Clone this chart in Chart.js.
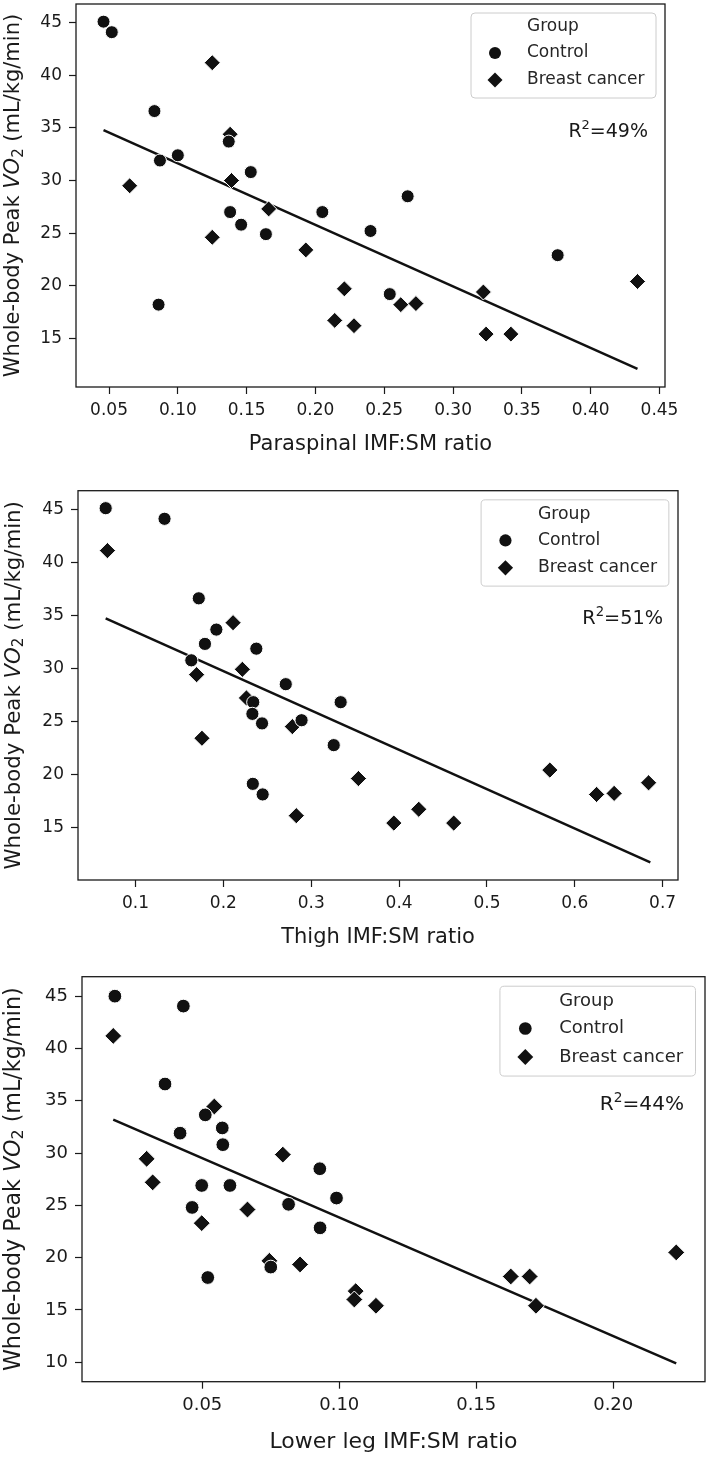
<!DOCTYPE html>
<html>
<head>
<meta charset="utf-8">
<script src="https://cdn.jsdelivr.net/npm/chart.js@4.4.1/dist/chart.umd.min.js"></script>
<style>
  html, body { margin: 0; padding: 0; background: #fff; }
  body { width: 709px; height: 1458px; position: relative; overflow: hidden; }
  canvas { position: absolute; left: 0; }
</style>
</head>
<body>
<canvas id="c1" width="709" height="470" style="top:0px"></canvas>
<canvas id="c2" width="709" height="493" style="top:470px"></canvas>
<canvas id="c3" width="709" height="495" style="top:963px"></canvas>
<script>
// ---- data ----
var groups = ['Control', 'Breast cancer'];
var r2Labels = ['49%', '51%', '44%'];

var vo2Ticks = [15, 20, 25, 30, 35, 40, 45];
var vo2TicksLow = [10, 15, 20, 25, 30, 35, 40, 45];

// paraspinal
var paraTicks = [0.05, 0.10, 0.15, 0.20, 0.25, 0.30, 0.35, 0.40, 0.45];
var paraCtrlX = [0.046, 0.052, 0.083, 0.087, 0.100, 0.137, 0.153, 0.138, 0.146, 0.164, 0.205, 0.240, 0.086, 0.254, 0.267, 0.376];
var paraCtrlY = [45.1, 44.1, 36.6, 31.9, 32.4, 33.7, 30.8, 27.0, 25.8, 24.9, 27.0, 25.2, 18.2, 19.2, 28.5, 22.9];
var paraBcX = [0.125, 0.138, 0.065, 0.139, 0.166, 0.125, 0.193, 0.221, 0.214, 0.228, 0.262, 0.273, 0.322, 0.324, 0.342, 0.434];
var paraBcY = [41.2, 34.4, 29.5, 30.0, 27.3, 24.6, 23.4, 19.7, 16.7, 16.2, 18.2, 18.3, 19.4, 15.4, 15.4, 20.4];
var paraFitX = [0.046, 0.434];
var paraFitY = [34.8, 12.1];

// thigh
var thighTicks = [0.1, 0.2, 0.3, 0.4, 0.5, 0.6, 0.7];
var thighCtrlX = [0.066, 0.133, 0.172, 0.192, 0.179, 0.2375, 0.1635, 0.271, 0.234, 0.3335, 0.233, 0.244, 0.289, 0.3256, 0.2335, 0.2447];
var thighCtrlY = [45.1, 44.1, 36.6, 33.65, 32.3, 31.85, 30.75, 28.5, 26.8, 26.8, 25.7, 24.8, 25.1, 22.75, 19.1, 18.1];
var thighBcX = [0.068, 0.211, 0.2216, 0.1695, 0.2262, 0.1756, 0.2785, 0.283, 0.5716, 0.6248, 0.6448, 0.684, 0.4224, 0.394, 0.4622, 0.3537];
var thighBcY = [41.1, 34.3, 29.9, 29.4, 27.2, 23.4, 24.5, 16.1, 20.4, 18.1, 18.2, 19.2, 16.7, 15.4, 15.4, 19.6];
var thighFitX = [0.066, 0.686];
var thighFitY = [34.7, 11.7];

// lower leg
var legTicks = [0.05, 0.10, 0.15, 0.20];
var legCtrlX = [0.0181, 0.0431, 0.0364, 0.0511, 0.0573, 0.0419, 0.0575, 0.0929, 0.0498, 0.0601, 0.099, 0.0463, 0.0815, 0.093, 0.075, 0.052];
var legCtrlY = [45.0, 44.05, 36.6, 33.65, 32.4, 31.9, 30.8, 28.5, 26.9, 26.9, 25.7, 24.8, 25.1, 22.85, 19.1, 18.1];
var legBcX = [0.0175, 0.0544, 0.0297, 0.0319, 0.0794, 0.0498, 0.0665, 0.0745, 0.0857, 0.106, 0.1055, 0.1134, 0.1626, 0.1695, 0.1718, 0.223];
var legBcY = [41.2, 34.45, 29.45, 27.2, 29.85, 23.3, 24.6, 19.7, 19.35, 16.8, 16.0, 15.4, 18.2, 18.2, 15.4, 20.5];
var legFitX = [0.0175, 0.223];
var legFitY = [33.2, 9.9];

// ---- helpers ----
function pts(xs, ys) {
  return xs.map(function (x, i) { return { x: x, y: ys[i] }; });
}

function roundRect(ctx, x, y, w, h, r) {
  ctx.beginPath();
  ctx.moveTo(x + r, y);
  ctx.lineTo(x + w - r, y);
  ctx.quadraticCurveTo(x + w, y, x + w, y + r);
  ctx.lineTo(x + w, y + h - r);
  ctx.quadraticCurveTo(x + w, y + h, x + w - r, y + h);
  ctx.lineTo(x + r, y + h);
  ctx.quadraticCurveTo(x, y + h, x, y + h - r);
  ctx.lineTo(x, y + r);
  ctx.quadraticCurveTo(x, y, x + r, y);
  ctx.closePath();
}

var FONT = '"DejaVu Sans", sans-serif';

// frame, legend, R² note and the y title (VO in italics, subscript 2)
var decor = {
  id: 'decor',
  afterDatasetsDraw: function (chart, args, o) {
    var ctx = chart.ctx, a = chart.chartArea, s = o.s;
    ctx.save();

    ctx.strokeStyle = '#1a1a1a';
    ctx.lineWidth = 1.3;
    ctx.strokeRect(a.left, a.top, a.right - a.left, a.bottom - a.top);

    // legend
    var bw = 185 * s, bh = 85 * s;
    var bx = a.right - 9 * s - bw, by = a.top + 9 * s;
    roundRect(ctx, bx, by, bw, bh, 4 * s);
    ctx.fillStyle = 'rgba(255,255,255,0.8)';
    ctx.fill();
    ctx.strokeStyle = '#cccccc';
    ctx.lineWidth = 1;
    ctx.stroke();

    ctx.font = (17 * s) + 'px ' + FONT;
    ctx.textBaseline = 'middle';
    ctx.textAlign = 'left';
    ctx.fillStyle = '#262626';
    var tx = bx + 56 * s, mx = bx + 24 * s;
    var rows = [by + 14 * s, by + 40 * s, by + 67 * s];
    ctx.fillText('Group', tx, rows[0]);
    ctx.fillText(chart.data.datasets[0].label, tx, rows[1]);
    ctx.fillText(chart.data.datasets[1].label, tx, rows[2]);

    ctx.fillStyle = '#111';
    ctx.beginPath();
    ctx.arc(mx, rows[1], 6 * s, 0, Math.PI * 2);
    ctx.fill();
    var d = 7.5 * s;
    ctx.beginPath();
    ctx.moveTo(mx, rows[2] - d);
    ctx.lineTo(mx + d, rows[2]);
    ctx.lineTo(mx, rows[2] + d);
    ctx.lineTo(mx - d, rows[2]);
    ctx.closePath();
    ctx.fill();

    // R² note
    var big = (19 * s) + 'px ' + FONT, small = (13 * s) + 'px ' + FONT;
    ctx.fillStyle = '#1a1a1a';
    ctx.font = big;
    var wR = ctx.measureText('R').width;
    var wRest = ctx.measureText('=' + o.r2).width;
    ctx.font = small;
    var w2 = ctx.measureText('2').width;
    var rx = a.right - o.r2Right - (wR + w2 + wRest);
    var ry = a.top + 128;
    ctx.font = big;
    ctx.fillText('R', rx, ry);
    ctx.font = small;
    ctx.fillText('2', rx + wR, ry - 6 * s);
    ctx.font = big;
    ctx.fillText('=' + o.r2, rx + wR + w2, ry);

    // y axis title
    var parts = [
      { t: 'Whole-body Peak ', f: (21 * s) + 'px ' + FONT, dy: 0 },
      { t: 'VO', f: 'italic ' + (21 * s) + 'px ' + FONT, dy: 0 },
      { t: '2', f: (15 * s) + 'px ' + FONT, dy: 5 * s },
      { t: ' (mL/kg/min)', f: (21 * s) + 'px ' + FONT, dy: 0 }
    ];
    var total = 0;
    parts.forEach(function (p) { ctx.font = p.f; p.w = ctx.measureText(p.t).width; total += p.w; });
    ctx.translate(14, (a.top + a.bottom) / 2);
    ctx.rotate(-Math.PI / 2);
    var cx = -total / 2;
    parts.forEach(function (p) {
      ctx.font = p.f;
      ctx.fillText(p.t, cx, p.dy);
      cx += p.w;
    });
    ctx.restore();
  }
};

function makePanel(p) {
  var s = p.s;
  var tickFont = { family: FONT, size: Math.round(17 * s) };
  new Chart(document.getElementById(p.id), {
    type: 'scatter',
    data: {
      datasets: [
        {
          label: groups[0],
          data: pts(p.ctrlX, p.ctrlY),
          pointStyle: 'circle',
          pointRadius: 6.5 * s,
          backgroundColor: '#111',
          borderColor: '#fff',
          borderWidth: 1
        },
        {
          label: groups[1],
          data: pts(p.bcX, p.bcY),
          pointStyle: 'rectRot',
          pointRadius: 8 * s,
          backgroundColor: '#111',
          borderColor: '#fff',
          borderWidth: 1
        },
        {
          label: 'fit',
          type: 'line',
          data: pts(p.fitX, p.fitY),
          borderColor: '#111',
          borderWidth: 2.5,
          pointRadius: 0,
          fill: false
        }
      ]
    },
    options: {
      responsive: false,
      animation: false,
      events: [],
      layout: { autoPadding: false, padding: { top: p.padTop, right: p.padRight, left: 0, bottom: 0 } },
      plugins: {
        legend: { display: false },
        tooltip: { enabled: false },
        decor: { s: s, r2: p.r2, r2Right: p.r2Right }
      },
      scales: {
        x: {
          type: 'linear',
          min: p.xMin,
          max: p.xMax,
          afterBuildTicks: function (sc) { sc.ticks = p.xTicks.map(function (v) { return { value: v }; }); },
          afterFit: function (sc) { sc.height = p.xH; sc.paddingLeft = 0; sc.paddingRight = 0; },
          ticks: {
            font: tickFont,
            color: '#1a1a1a',
            padding: 6,
            maxRotation: 0,
            callback: function (v) { return v.toFixed(p.xDec); }
          },
          grid: { drawOnChartArea: false, drawTicks: true, tickLength: 7, tickColor: '#1a1a1a', tickWidth: 1.2 },
          border: { display: false },
          title: {
            display: true,
            text: p.xTitle,
            font: { family: FONT, size: Math.round(21 * s) },
            color: '#1a1a1a',
            padding: { top: 0, bottom: p.xTitlePad }
          }
        },
        y: {
          type: 'linear',
          min: p.yMin,
          max: p.yMax,
          afterBuildTicks: function (sc) { sc.ticks = p.yTicks.map(function (v) { return { value: v }; }); },
          afterFit: function (sc) { sc.width = p.yW; sc.paddingTop = 0; sc.paddingBottom = 0; },
          ticks: { font: tickFont, color: '#1a1a1a', padding: 7 },
          grid: { drawOnChartArea: false, drawTicks: true, tickLength: 7, tickColor: '#1a1a1a', tickWidth: 1.2 },
          border: { display: false }
        }
      }
    },
    plugins: [decor]
  });
}

makePanel({
  id: 'c1', s: 1,
  ctrlX: paraCtrlX, ctrlY: paraCtrlY, bcX: paraBcX, bcY: paraBcY, fitX: paraFitX, fitY: paraFitY,
  xTicks: paraTicks, yTicks: vo2Ticks, xDec: 2, xTitle: 'Paraspinal IMF:SM ratio', r2: r2Labels[0],
  xMin: 0.026, xMax: 0.454, yMin: 10.37, yMax: 46.78,
  padTop: 4, padRight: 44, yW: 76, xH: 83, xTitlePad: 13, r2Right: 17
});
makePanel({
  id: 'c2', s: 1.015,
  ctrlX: thighCtrlX, ctrlY: thighCtrlY, bcX: thighBcX, bcY: thighBcY, fitX: thighFitX, fitY: thighFitY,
  xTicks: thighTicks, yTicks: vo2Ticks, xDec: 1, xTitle: 'Thigh IMF:SM ratio', r2: r2Labels[1],
  xMin: 0.0345, xMax: 0.7175, yMin: 10.03, yMax: 46.75,
  padTop: 20.7, padRight: 31, yW: 78, xH: 83, xTitlePad: 13, r2Right: 15
});
makePanel({
  id: 'c3', s: 1.057,
  ctrlX: legCtrlX, ctrlY: legCtrlY, bcX: legBcX, bcY: legBcY, fitX: legFitX, fitY: legFitY,
  xTicks: legTicks, yTicks: vo2TicksLow, xDec: 2, xTitle: 'Lower leg IMF:SM ratio', r2: r2Labels[2],
  xMin: 0.0061, xMax: 0.2335, yMin: 8.14, yMax: 46.86,
  padTop: 13.7, padRight: 4, yW: 82, xH: 76.3, xTitlePad: 3, r2Right: 21
});
</script>
</body>
</html>
